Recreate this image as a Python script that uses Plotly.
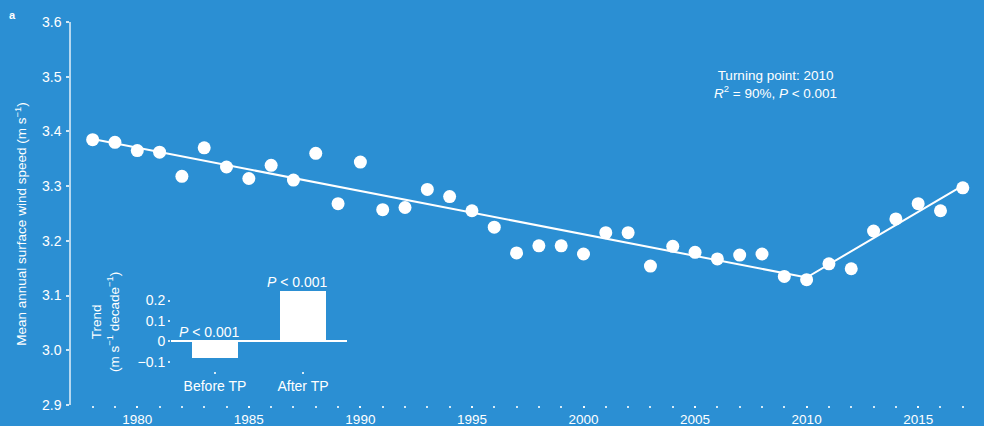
import plotly.graph_objects as go

years = list(range(1978, 2018))
wind_speed = [3.385, 3.380, 3.365, 3.362, 3.318, 3.370, 3.335, 3.314, 3.338, 3.311,
              3.360, 3.268, 3.344, 3.257, 3.261, 3.294, 3.281, 3.255, 3.225, 3.178,
              3.191, 3.191, 3.176, 3.215, 3.215, 3.154, 3.190, 3.179, 3.167, 3.174,
              3.176, 3.135, 3.129, 3.158, 3.149, 3.218, 3.240, 3.268, 3.255, 3.297]
trend_years = [1978, 2010, 2017]
trend_values = [3.386, 3.133, 3.301]

inset_categories = ["Before TP", "After TP"]
inset_trends = [-0.08, 0.245]
inset_p_labels = ["<i>P</i> < 0.001", "<i>P</i> < 0.001"]

x_tick_vals = [1980, 1985, 1990, 1995, 2000, 2005, 2010, 2015]
y_tick_vals = [2.9, 3.0, 3.1, 3.2, 3.3, 3.4, 3.5, 3.6]
inset_y_ticks = [-0.1, 0, 0.1, 0.2]
inset_y_ticktext = ["\u22120.1", "0", "0.1", "0.2"]

BG = "#2b8fd3"
WHITE = "white"
FONT = "Liberation Sans, Arial, sans-serif"
W, H = 984, 426
ML, MR, MT, MB = 71, 0, 22, 21
PW, PH = W - ML - MR, H - MT - MB

def px_x(p):
    return (p - ML) / PW

def px_y(p):
    return (H - MB - p) / PH

fig = go.Figure()

fig.add_trace(go.Scatter(x=trend_years, y=trend_values, mode="lines",
                         line=dict(color=WHITE, width=2), showlegend=False,
                         hoverinfo="skip"))
fig.add_trace(go.Scatter(x=years, y=wind_speed, mode="markers",
                         marker=dict(color=WHITE, size=13), showlegend=False))

fig.add_trace(go.Bar(x=inset_categories, y=inset_trends, width=0.52,
                     marker=dict(color=WHITE, line=dict(width=0)),
                     xaxis="x2", yaxis="y2", showlegend=False))

fig.update_layout(
    width=W, height=H,
    margin=dict(l=ML, r=MR, t=MT, b=MB),
    paper_bgcolor=BG, plot_bgcolor=BG,
    font=dict(family=FONT, color=WHITE, size=14),
    xaxis=dict(range=[1977.03, 2017.95], showgrid=False, zeroline=False,
               showline=False, tickvals=x_tick_vals,
               ticks="outside", ticklen=2, tickwidth=2,
               tickcolor="rgba(255,255,255,0.8)",
               minor=dict(dtick=1, ticks="outside", ticklen=2, tickwidth=2,
                          tickcolor="rgba(255,255,255,0.8)", showgrid=False),
               tickfont=dict(size=13.5, color=WHITE), ticklabelstandoff=0),
    yaxis=dict(range=[2.9, 3.6], showgrid=False, zeroline=False,
               showline=True, linecolor="rgba(255,255,255,0.65)", linewidth=1.5,
               tickvals=y_tick_vals, tickformat=".1f",
               ticks="outside", ticklen=3, tickwidth=1.5,
               tickcolor="rgba(255,255,255,0.8)",
               tickfont=dict(size=14, color=WHITE), ticklabelstandoff=2),
    xaxis2=dict(domain=[px_x(171), px_x(347)], anchor="y2", range=[-0.5, 1.5],
                showgrid=False, zeroline=False, showline=False,
                ticks="outside", ticklen=2, tickwidth=2,
                tickcolor="rgba(255,255,255,0.8)",
                tickfont=dict(size=14, color=WHITE)),
    yaxis2=dict(domain=[px_y(371), px_y(280)], anchor="x2", range=[-0.144, 0.3],
                showgrid=False, zeroline=True, zerolinecolor=WHITE, zerolinewidth=1.5,
                showline=False, tickvals=inset_y_ticks, ticktext=inset_y_ticktext,
                ticks="outside", ticklen=2, tickwidth=2,
                tickcolor="rgba(255,255,255,0.8)",
                tickfont=dict(size=14, color=WHITE)),
    bargap=0,
)

annotations = [
    dict(text="Mean annual surface wind speed (m s<sup>\u22121</sup>)",
         x=px_x(20.7), y=px_y(224), xref="paper", yref="paper",
         textangle=-90, showarrow=False, font=dict(size=13.5),
         xanchor="center", yanchor="middle"),
    dict(text="Turning point: 2010<br><i>R</i><sup>2</sup> = 90%, <i>P</i> < 0.001",
         x=px_x(775), y=px_y(84), xref="paper", yref="paper",
         showarrow=False, font=dict(size=13.5), xanchor="center", yanchor="middle"),
    dict(text="Trend<br>(m s<sup>\u22121</sup> decade<sup>\u22121</sup>)",
         x=px_x(105), y=px_y(322), xref="paper", yref="paper",
         textangle=-90, showarrow=False, font=dict(size=13.5),
         xanchor="center", yanchor="middle"),
    dict(text="<b>a</b>", x=px_x(12), y=px_y(15), xref="paper", yref="paper",
         showarrow=False, font=dict(size=11), xanchor="center", yanchor="middle"),
]
p_positions = [(-0.06, 0.046), (-0.06, 0.29)]
for i, cat in enumerate(inset_categories):
    annotations.append(dict(text=inset_p_labels[i], x=i + p_positions[i][0],
                            y=p_positions[i][1], xref="x2", yref="y2",
                            showarrow=False, font=dict(size=14),
                            xanchor="center", yanchor="middle"))
fig.update_layout(annotations=annotations)

fig.write_html("out.html", config={"displayModeBar": False},
               post_script="document.body.style.margin='0';document.body.style.padding='0';")
